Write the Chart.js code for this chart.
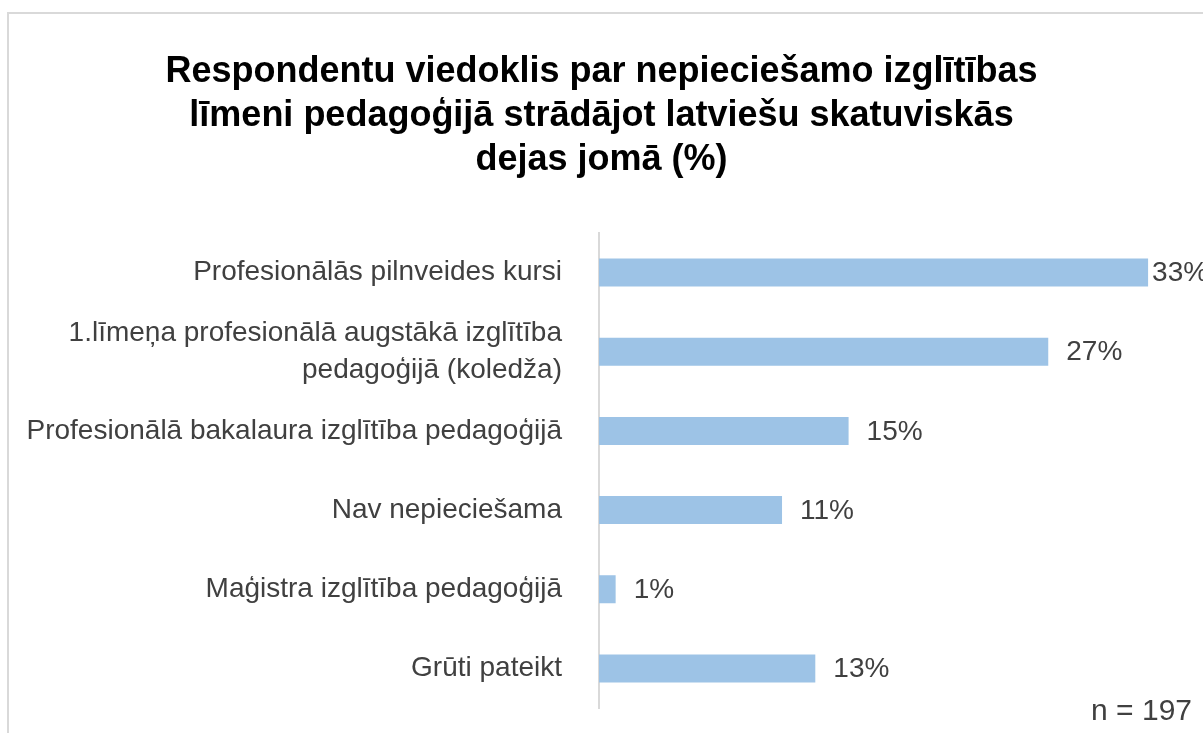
<!DOCTYPE html>
<html>
<head>
<meta charset="utf-8">
<script src="https://cdn.jsdelivr.net/npm/chart.js@4.4.1/dist/chart.umd.min.js"></script>
<style>
html,body{margin:0;padding:0;background:#fff;overflow:hidden;}
#wrap{position:absolute;left:0;top:0;width:1203px;height:733px;}
</style>
</head>
<body>
<div id="wrap"><canvas id="c" width="1203" height="733"></canvas></div>
<script>
const titleLines = ["Respondentu viedoklis par nepieciešamo izglītības", "līmeni pedagoģijā strādājot latviešu skatuviskās", "dejas jomā (%)"];
const categories = [
  "Profesionālās pilnveides kursi",
  ["1.līmeņa profesionālā augstākā izglītība", "pedagoģijā (koledža)"],
  "Profesionālā bakalaura izglītība pedagoģijā",
  "Nav nepieciešama",
  "Maģistra izglītība pedagoģijā",
  "Grūti pateikt"
];
const values = [33, 27, 15, 11, 1, 13];
const sampleNote = "n = 197";

const FONT = "'Liberation Sans', Arial, sans-serif";

const framePlugin = {
  id: 'frame',
  beforeDraw(chart) {
    const ctx = chart.ctx;
    ctx.save();
    ctx.fillStyle = '#ffffff';
    ctx.fillRect(0, 0, chart.width, chart.height);
    ctx.strokeStyle = '#d9d9d9';
    ctx.lineWidth = 2;
    ctx.beginPath();
    ctx.moveTo(8, chart.height + 5);
    ctx.lineTo(8, 13);
    ctx.lineTo(chart.width + 5, 13);
    ctx.stroke();
    ctx.restore();
  }
};

const labelPlugin = {
  id: 'valueLabels',
  afterDatasetsDraw(chart) {
    const ctx = chart.ctx;
    const meta = chart.getDatasetMeta(0);
    ctx.save();
    ctx.font = "28px " + FONT;
    ctx.fillStyle = '#404040';
    ctx.textBaseline = 'middle';
    ctx.textAlign = 'left';
    meta.data.forEach((bar, i) => {
      const txt = values[i] + '%';
      const w = ctx.measureText(txt).width;
      let x = bar.x + 18;
      if (x + w > chart.width) x = bar.x + 4;
      ctx.fillText(txt, x, bar.y + 1);
    });
    ctx.font = "30px " + FONT;
    ctx.textAlign = 'right';
    ctx.fillText(sampleNote, 1192, 712);
    ctx.restore();
  }
};

new Chart(document.getElementById('c'), {
  type: 'bar',
  data: {
    labels: categories,
    datasets: [{
      data: values,
      backgroundColor: '#9dc3e6',
      borderWidth: 0,
      barPercentage: 0.354,
      categoryPercentage: 1.0
    }]
  },
  options: {
    indexAxis: 'y',
    responsive: false,
    animation: false,
    devicePixelRatio: 1,
    layout: { padding: { left: 0, right: 0, top: 0, bottom: 25 } },
    plugins: {
      legend: { display: false },
      tooltip: { enabled: false },
      title: {
        display: true,
        text: titleLines,
        color: '#000000',
        font: { family: FONT, size: 36, weight: 'bold', lineHeight: 44/36 },
        padding: { top: 50, bottom: 51 }
      }
    },
    scales: {
      x: {
        display: false,
        min: 0,
        max: 36.3
      },
      y: {
        afterFit(scale) {
          scale.width = 599;
          scale.paddingTop = 0;
          scale.paddingBottom = 0;
        },
        grid: { display: false, drawTicks: false },
        border: { display: true, color: '#d9d9d9', width: 2 },
        ticks: {
          color: '#404040',
          padding: 37,
          font: { family: FONT, size: 28, lineHeight: 37/28 }
        }
      }
    }
  },
  plugins: [framePlugin, labelPlugin]
});
</script>
</body>
</html>
